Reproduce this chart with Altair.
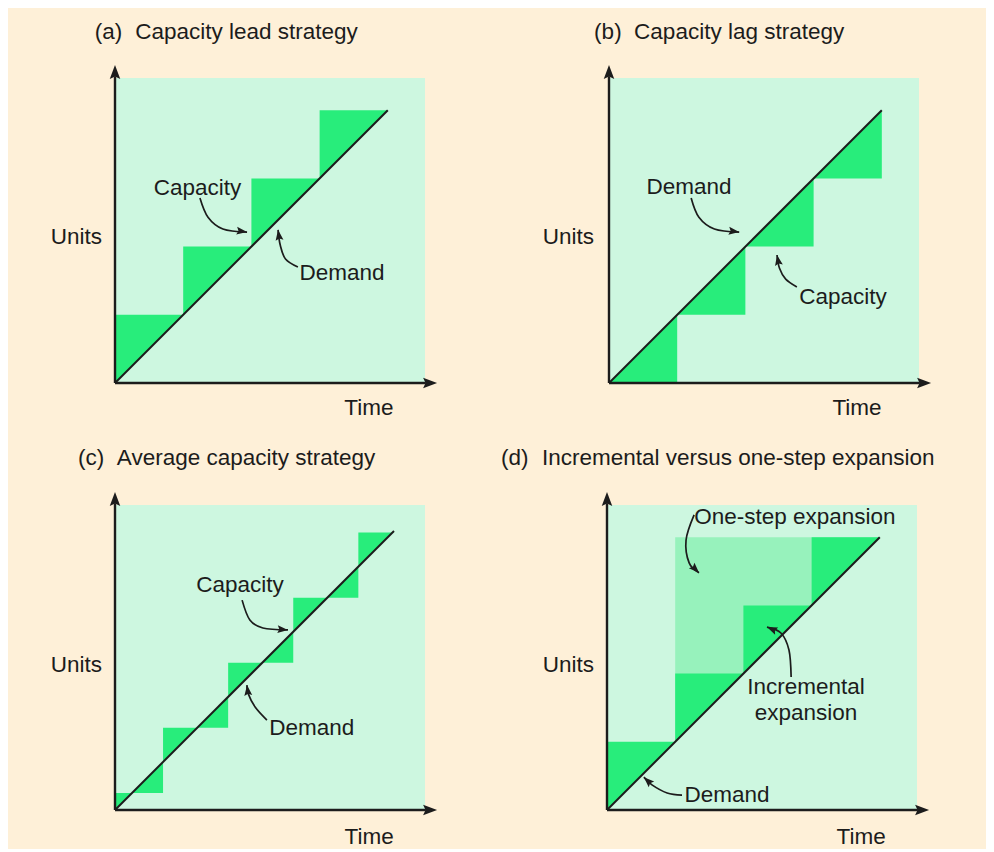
import math
import altair as alt
import pandas as pd

# ---------------- colours / fonts ----------------
PEACH = "#FEF0D8"
MINT = "#CDF7E0"
GREEN = "#28ED7B"
LIGHT = "#97F2BC"
INK = "#1c1c1c"
FONT = "Liberation Sans"
FS = 22.5

# ---------------- layout (pixels) ----------------
PX = 31.0                      # pixels per unit on both axes
PANEL_W, PANEL_H = 489, 418
ORIGIN = {"a": (107, 375), "b": (112, 375), "c": (107, 384), "d": (110, 384)}
HEAD = "M0,-1L0.75,1L0,0.65L-0.75,1Z"

# ---------------- data (in plot units) ----------------
PANELS = ["a", "b", "c", "d"]
PLOT_W, PLOT_H = 10.0, 9.84
AXIS_X_END, AXIS_Y_END = 10.39, 10.26

TITLE_TAG = ["(a)", "(b)", "(c)", "(d)"]
TITLE_TEXT = ["Capacity lead strategy", "Capacity lag strategy",
              "Average capacity strategy", "Incremental versus one-step expansion"]
TITLE_TAG_X = [-0.65, -0.48, -1.19, -3.42]
TITLE_TEXT_X = [0.65, 0.81, 0.06, -2.10]
TITLE_Y = [11.32, 11.32, 11.35, 11.35]

UNITS_X = [-0.42, -0.48, -0.42, -0.42]
UNITS_Y = [4.71, 4.71, 4.68, 4.68]
TIME_X = [8.19, 8.00, 8.20, 8.20]
TIME_Y = [-0.81, -0.81, -0.87, -0.87]

DEMAND_END = [8.8, 8.8, 9.0, 8.8]

# capacity step functions: edges along time, level on each interval
LEAD_EDGES = [0, 2.2, 4.4, 6.6, 8.8]
LEAD_LEVELS = [2.2, 4.4, 6.6, 8.8]
LAG_EDGES = [0, 2.2, 4.4, 6.6, 8.8]
LAG_LEVELS = [0, 2.2, 4.4, 6.6]
AVG_EDGES = [0, 1.55, 3.65, 5.75, 7.85, 9.0]
AVG_LEVELS = [0.55, 2.65, 4.75, 6.85, 8.95]
ONESTEP_EDGES = [2.2, 8.8]
ONESTEP_LEVELS = [8.8]

# annotation labels
LABELS = {
    "a": [("Capacity", 2.66, 6.29), ("Demand", 7.32, 3.55)],
    "b": [("Demand", 2.58, 6.32), ("Capacity", 7.55, 2.77)],
    "c": [("Capacity", 4.03, 7.26), ("Demand", 6.35, 2.65)],
    "d": [("One-step expansion", 6.06, 9.45), ("Incremental", 6.42, 3.97),
          ("expansion", 6.42, 3.13), ("Demand", 3.87, 0.48)],
}
# annotation arrows (last point = arrow tip)
ARROWS = {
    "a": [[(2.74, 5.97), (3.0, 5.35), (3.48, 4.97), (4.26, 4.87)],
          [(5.9, 3.74), (5.5, 4.0), (5.33, 4.45), (5.26, 4.94)]],
    "b": [[(2.65, 5.97), (2.9, 5.35), (3.4, 4.97), (4.2, 4.87)],
          [(6.06, 3.1), (5.7, 3.35), (5.5, 3.7), (5.42, 4.13)]],
    "c": [[(4.1, 6.77), (4.35, 6.13), (4.77, 5.87), (5.58, 5.81)],
          [(4.9, 2.9), (4.52, 3.32), (4.29, 3.77), (4.26, 4.03)]],
    "d": [[(2.81, 9.52), (2.55, 8.71), (2.65, 7.97), (2.97, 7.65)],
          [(5.94, 4.29), (5.87, 5.16), (5.61, 5.71), (5.16, 5.9)],
          [(2.42, 0.48), (1.94, 0.55), (1.45, 0.81), (1.19, 1.06)]],
}

STEPS = {
    "a": [(LEAD_EDGES, LEAD_LEVELS, GREEN)],
    "b": [(LAG_EDGES, LAG_LEVELS, GREEN)],
    "c": [(AVG_EDGES, AVG_LEVELS, GREEN)],
    "d": [(ONESTEP_EDGES, ONESTEP_LEVELS, LIGHT), (LEAD_EDGES, LEAD_LEVELS, GREEN)],
}


def step_rows(edges, levels):
    rows = []
    for k, lev in enumerate(levels):
        rows.append({"x": edges[k], "top": lev, "bottom": edges[k], "seg": k})
        rows.append({"x": edges[k + 1], "top": lev, "bottom": edges[k + 1], "seg": k})
    return pd.DataFrame(rows)


def head_row(prev, tip, size):
    dx, dy = tip[0] - prev[0], tip[1] - prev[1]
    n = math.hypot(dx, dy)
    ux, uy = dx / n, dy / n
    r = math.sqrt(size) / 2 / PX
    ang = math.degrees(math.atan2(dx, dy)) % 360
    return {"x": tip[0] - ux * r, "y": tip[1] - uy * r, "ang": ang, "sz": size}


def panel(i):
    key = PANELS[i]
    ox, oy = ORIGIN[key]
    xs = alt.Scale(domain=[-ox / PX, (PANEL_W - ox) / PX], nice=False, zero=False)
    ys = alt.Scale(domain=[-(PANEL_H - oy) / PX, oy / PX], nice=False, zero=False)

    def X(f):
        return alt.X(f, type="quantitative", scale=xs, axis=None)

    def Y(f):
        return alt.Y(f, type="quantitative", scale=ys, axis=None)

    layers = []
    bg = pd.DataFrame({"x": [0.0], "x2": [PLOT_W], "y": [0.0], "y2": [PLOT_H]})
    layers.append(alt.Chart(bg).mark_rect(color=MINT).encode(
        x=X("x"), x2=alt.X2("x2"), y=Y("y"), y2=alt.Y2("y2")))

    for edges, levels, col in STEPS[key]:
        layers.append(alt.Chart(step_rows(edges, levels)).mark_area(
            color=col, opacity=1, interpolate="linear").encode(
            x=X("x"), y=Y("top"), y2=alt.Y2("bottom"), detail="seg:N"))

    dem = pd.DataFrame({"x": [0.0, DEMAND_END[i]], "y": [0.0, DEMAND_END[i]]})
    layers.append(alt.Chart(dem).mark_line(color=INK, strokeWidth=2).encode(
        x=X("x"), y=Y("y")))

    # axes
    ax_size = 196
    hl = math.sqrt(ax_size) * 0.8 / PX
    axes = pd.DataFrame({"x": [0.0, 0.0], "y": [0.0, 0.0],
                         "x2": [0.0, AXIS_X_END - hl], "y2": [AXIS_Y_END - hl, 0.0]})
    layers.append(alt.Chart(axes).mark_rule(color=INK, strokeWidth=2.4).encode(
        x=X("x"), y=Y("y"), x2=alt.X2("x2"), y2=alt.Y2("y2")))

    heads = [head_row((0, 0), (0, AXIS_Y_END), ax_size),
             head_row((0, 0), (AXIS_X_END, 0), ax_size)]

    # annotation arrows
    arows = []
    for j, pts in enumerate(ARROWS[key]):
        for k, (px_, py_) in enumerate(pts):
            arows.append({"x": px_, "y": py_, "arrow": j, "i": k})
        heads.append(head_row(pts[-2], pts[-1], 110))
    layers.append(alt.Chart(pd.DataFrame(arows)).mark_line(
        color=INK, strokeWidth=1.7, interpolate="cardinal").encode(
        x=X("x"), y=Y("y"), detail="arrow:N", order="i:Q"))

    layers.append(alt.Chart(pd.DataFrame(heads)).mark_point(
        shape=HEAD, filled=True, color=INK, opacity=1, strokeWidth=0).encode(
        x=X("x"), y=Y("y"), angle=alt.Angle("ang:Q", scale=None),
        size=alt.Size("sz:Q", scale=None)))

    # texts
    left = pd.DataFrame({"t": [TITLE_TAG[i], TITLE_TEXT[i]],
                         "x": [TITLE_TAG_X[i], TITLE_TEXT_X[i]],
                         "y": [TITLE_Y[i], TITLE_Y[i]]})
    layers.append(alt.Chart(left).mark_text(
        align="left", baseline="middle", font=FONT, fontSize=FS, color=INK).encode(
        x=X("x"), y=Y("y"), text="t:N"))

    right = pd.DataFrame({"t": ["Units"], "x": [UNITS_X[i]], "y": [UNITS_Y[i]]})
    layers.append(alt.Chart(right).mark_text(
        align="right", baseline="middle", font=FONT, fontSize=FS, color=INK).encode(
        x=X("x"), y=Y("y"), text="t:N"))

    cen = [{"t": "Time", "x": TIME_X[i], "y": TIME_Y[i]}]
    for t, lx, ly in LABELS[key]:
        cen.append({"t": t, "x": lx, "y": ly})
    layers.append(alt.Chart(pd.DataFrame(cen)).mark_text(
        align="center", baseline="middle", font=FONT, fontSize=FS, color=INK).encode(
        x=X("x"), y=Y("y"), text="t:N"))

    return alt.layer(*layers).properties(width=PANEL_W, height=PANEL_H)


top = alt.hconcat(panel(0), panel(1), spacing=0)
bottom = alt.hconcat(panel(2), panel(3), spacing=0)
chart = alt.vconcat(top, bottom, spacing=0).properties(
    background=PEACH, padding=0).configure_view(stroke=None)

chart.save("out.html", embed_options={"renderer": "svg", "actions": False})
